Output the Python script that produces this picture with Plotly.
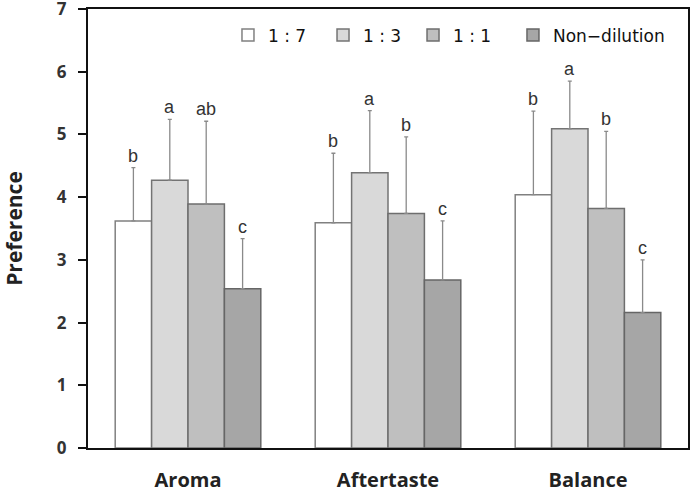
import plotly.graph_objects as go

categories = ["Aroma", "Aftertaste", "Balance"]
series_names = ["1 : 7", "1 : 3", "1 : 1", "Non\u2212dilution"]
values = {
    "1 : 7": [3.62, 3.59, 4.04],
    "1 : 3": [4.27, 4.39, 5.09],
    "1 : 1": [3.89, 3.74, 3.82],
    "Non\u2212dilution": [2.54, 2.68, 2.16],
}
errors = {
    "1 : 7": [0.85, 1.11, 1.33],
    "1 : 3": [0.97, 0.99, 0.76],
    "1 : 1": [1.32, 1.22, 1.23],
    "Non\u2212dilution": [0.80, 0.94, 0.84],
}
letters = {
    "1 : 7": ["b", "b", "b"],
    "1 : 3": ["a", "a", "a"],
    "1 : 1": ["ab", "b", "b"],
    "Non\u2212dilution": ["c", "c", "c"],
}
colors = ["#ffffff", "#d9d9d9", "#bfbfbf", "#a6a6a6"]
outlines = ["#808080", "#747474", "#6e6e6e", "#666666"]
legend_ids = ["legend", "legend2", "legend3", "legend4"]
legend_x = [0.2333, 0.3917, 0.5417, 0.7083]

bargap = 0.272
bar_w = (1 - bargap) / 4

fig = go.Figure()
for k, name in enumerate(series_names):
    fig.add_trace(go.Bar(
        name=name,
        x=categories,
        y=values[name],
        marker=dict(color=colors[k], line=dict(color=outlines[k], width=1.5)),
        error_y=dict(type="data", symmetric=False, array=errors[name],
                     arrayminus=[0] * len(categories),
                     color="#8a8a8a", thickness=1.3, width=2),
        legend=legend_ids[k],
    ))

annotations = []
for k, name in enumerate(series_names):
    off = (k - 1.5) * bar_w
    for i, cat in enumerate(categories):
        annotations.append(dict(
            x=i + off, y=values[name][i] + errors[name][i],
            xref="x", yref="y", text=letters[name][i], showarrow=False,
            yanchor="bottom", yshift=0,
            font=dict(family="Liberation Sans, Arial, sans-serif", size=18, color="#333333"),
        ))

layout_legends = {}
for k, lid in enumerate(legend_ids):
    layout_legends[lid] = dict(
        x=legend_x[k], y=0.94, xanchor="left", yanchor="middle",
        orientation="h", bgcolor="rgba(0,0,0,0)", borderwidth=0,
        font=dict(family="DejaVu Sans, sans-serif", size=17, color="#111111"),
    )

fig.update_layout(
    width=692, height=493,
    margin=dict(l=88, r=4, t=9, b=45),
    paper_bgcolor="white", plot_bgcolor="white",
    barmode="group", bargap=bargap, bargroupgap=0,
    showlegend=True,
    annotations=annotations,
    **layout_legends,
)
fig.update_xaxes(
    type="category", automargin=False,
    showline=True, linecolor="#111111", linewidth=2, mirror=True,
    ticks="", showgrid=False,
    tickfont=dict(family="Open Sans, sans-serif", size=20, color="#222222", weight="bold"),
    ticklabelstandoff=13,
)
fig.update_yaxes(
    range=[0, 7], dtick=1, automargin=False,
    showline=True, linecolor="#111111", linewidth=2, mirror=True,
    ticks="outside", ticklen=8, tickwidth=1.5, tickcolor="#111111",
    showgrid=False, zeroline=False,
    ticklabeloverflow="allow",
    tickfont=dict(family="Open Sans, sans-serif", size=17, color="#333333", weight="bold"),
    ticklabelstandoff=8,
    title=dict(text="Preference", standoff=30,
               font=dict(family="Open Sans, sans-serif", size=21, color="#222222", weight="bold")),
)

fig.write_html("out.html")
